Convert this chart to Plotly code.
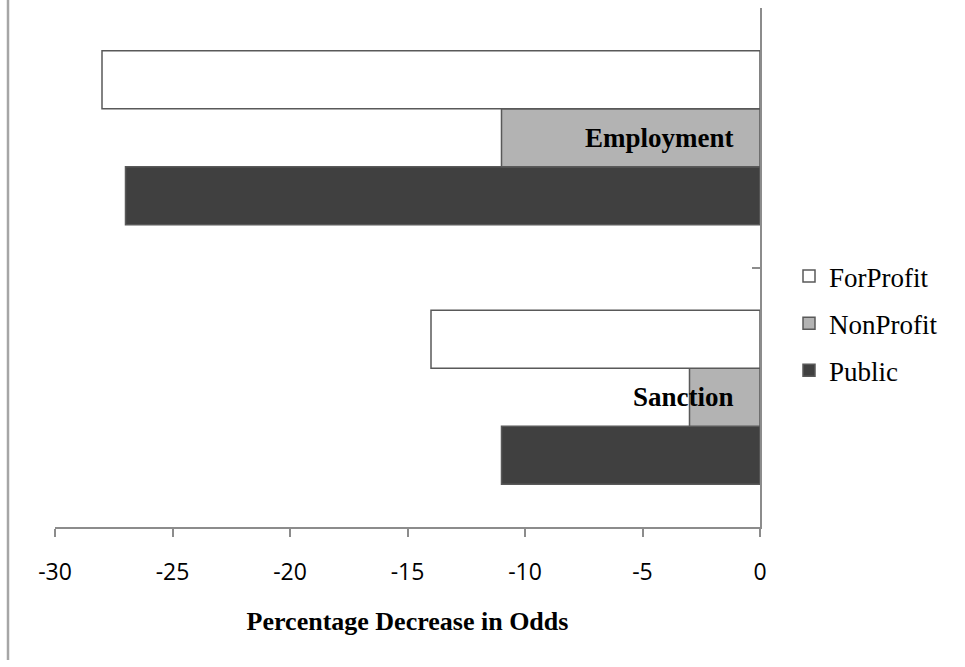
import plotly.graph_objects as go

categories = ["Sanction", "Employment"]
series_names = ["ForProfit", "NonProfit", "Public"]
forprofit = [-14, -28]
nonprofit = [-3, -11]
public = [-11, -27]
x_ticks = [-30, -25, -20, -15, -10, -5, 0]

colors = {"ForProfit": "#ffffff", "NonProfit": "#b3b3b3", "Public": "#404040"}
values = {"ForProfit": forprofit, "NonProfit": nonprofit, "Public": public}

fig = go.Figure()
for name in ["Public", "NonProfit", "ForProfit"]:
    fig.add_trace(go.Bar(
        y=categories, x=values[name], name=name, orientation="h",
        legendgroup=name,
        legendrank={"ForProfit": 1, "NonProfit": 2, "Public": 3}[name],
        marker=dict(color=colors[name], line=dict(color="#595959", width=1.5)),
    ))

W, H = 965, 667
L, R, T, B = 55, 205, 8, 140
pw, ph = W - L - R, H - T - B

for cat in categories:
    fig.add_annotation(x=0, y=cat, xref="x", yref="y", text=f"<b>{cat}</b>",
                       showarrow=False, xanchor="right", yanchor="middle", xshift=-24,
                       font=dict(family="Liberation Serif", size=27, color="#000000"))

fig.add_shape(type="line", xref="paper", yref="paper",
              x0=(8 - L) / pw, x1=(8 - L) / pw, y0=(H - B - 0) / ph, y1=(H - B - 660) / ph,
              line=dict(color="#a6a6a6", width=2.5))

fig.update_layout(
    width=W, height=H,
    margin=dict(l=L, r=R, t=T, b=B, pad=0),
    paper_bgcolor="white", plot_bgcolor="white",
    barmode="group", bargap=0.33, bargroupgap=0,
    showlegend=True,
    legend=dict(traceorder="grouped", tracegroupgap=9,
                x=(789 - L) / pw, xanchor="left", y=(H - B - 252) / ph, yanchor="top",
                font=dict(family="Liberation Serif", size=27, color="#000000"),
                bgcolor="rgba(0,0,0,0)", itemwidth=30),
    xaxis=dict(range=[-30, 0], tickvals=x_ticks, ticktext=[str(v) for v in x_ticks],
               showgrid=False, zeroline=False, showline=True, linecolor="#8c8c8c", linewidth=2,
               ticks="outside", ticklen=8, tickwidth=2, tickcolor="#8c8c8c",
               ticklabelstandoff=15,
               tickfont=dict(family="Open Sans", size=23, color="#000000"),
               title=dict(text="<b>Percentage Decrease in Odds</b>", standoff=26,
                          font=dict(family="Liberation Serif", size=26, color="#000000"))),
    yaxis=dict(side="right", categoryorder="array", categoryarray=categories,
               showgrid=False, zeroline=False, showline=True, linecolor="#8c8c8c", linewidth=2,
               ticks="inside", ticklen=8, tickwidth=2, tickcolor="#8c8c8c",
               tickson="boundaries", showticklabels=False, range=[-0.5, 1.5]),
)

fig.write_html("out.html")
